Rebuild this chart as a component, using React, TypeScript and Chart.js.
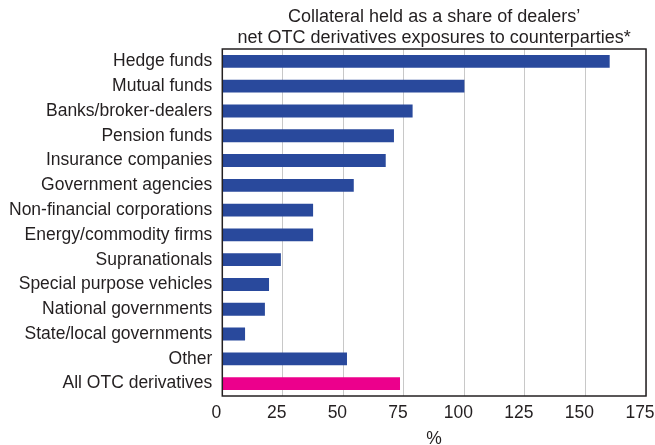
import React, { useEffect, useRef } from "react";
import { Chart, registerables } from "chart.js";

Chart.register(...registerables);

const categories = [
  "Hedge funds",
  "Mutual funds",
  "Banks/broker-dealers",
  "Pension funds",
  "Insurance companies",
  "Government agencies",
  "Non-financial corporations",
  "Energy/commodity firms",
  "Supranationals",
  "Special purpose vehicles",
  "National governments",
  "State/local governments",
  "Other",
  "All OTC derivatives",
];

const collateralShare = [160, 100, 78.6, 70.9, 67.5, 54.3, 37.5, 37.5, 24.2, 19.3, 17.6, 9.4, 51.5, 73.4];

const subtitleLines = [
  "Collateral held as a share of dealers\u2019",
  "net OTC derivatives exposures to counterparties*",
];

const xTicks = [0, 25, 50, 75, 100, 125, 150, 175];
const xAxisTitle = "%";

const BLUE = "#29499c";
const PINK = "#ec008c";
const TEXT = "#231f20";
const FONT = "'Liberation Sans', Arial, sans-serif";

export default function App() {
  const ref = useRef<HTMLCanvasElement | null>(null);

  useEffect(() => {
    document.body.style.margin = "0";
    const canvas = ref.current;
    if (!canvas) return;

    const framePlugin = {
      id: "frameAndSubtitle",
      afterDraw(chart: any) {
        const { ctx, chartArea } = chart;
        ctx.save();
        ctx.strokeStyle = "#231f20";
        ctx.lineWidth = 1.5;
        ctx.strokeRect(chartArea.left, chartArea.top, chartArea.right - chartArea.left, chartArea.bottom - chartArea.top);
        ctx.fillStyle = TEXT;
        ctx.font = `18px ${FONT}`;
        ctx.textAlign = "center";
        ctx.textBaseline = "alphabetic";
        const cx = (chartArea.left + chartArea.right) / 2;
        subtitleLines.forEach((line, i) => {
          ctx.fillText(line, cx, 22 + i * 21);
        });
        ctx.restore();
      },
    };

    const chart = new Chart(canvas, {
      type: "bar",
      data: {
        labels: categories,
        datasets: [
          {
            data: collateralShare,
            backgroundColor: categories.map((_, i) => (i === categories.length - 1 ? PINK : BLUE)),
            categoryPercentage: 1,
            barPercentage: 0.52,
            borderWidth: 0,
          },
        ],
      },
      options: {
        indexAxis: "y",
        animation: false,
        responsive: false,
        maintainAspectRatio: false,
        layout: { padding: { top: 49, left: -1, right: 9, bottom: -5 } },
        plugins: {
          legend: { display: false },
          tooltip: { enabled: false },
          title: { display: false },
        },
        scales: {
          x: {
            type: "linear",
            min: 0,
            max: 175,
            afterBuildTicks: (axis: any) => {
              axis.ticks = xTicks.map((v) => ({ value: v }));
            },
            afterFit: (axis: any) => {
              axis.paddingRight = 0;
              axis.paddingLeft = 0;
            },
            grid: { color: "#c8c8c8", lineWidth: 1, drawTicks: false },
            border: { display: false },
            ticks: { color: TEXT, font: { family: FONT, size: 17.5 }, padding: 7, maxRotation: 0, labelOffset: -6 },
            title: { display: true, text: xAxisTitle, color: TEXT, font: { family: FONT, size: 17.5 }, padding: { top: -2, bottom: 0 } },
          },
          y: {
            grid: { display: false, drawTicks: false },
            border: { display: false },
            ticks: { color: TEXT, font: { family: FONT, size: 17.5 }, padding: 10, autoSkip: false },
          },
        },
      },
      plugins: [framePlugin],
    });

    return () => chart.destroy();
  }, []);

  return <canvas ref={ref} width={655} height={445} style={{ display: "block" }} />;
}
